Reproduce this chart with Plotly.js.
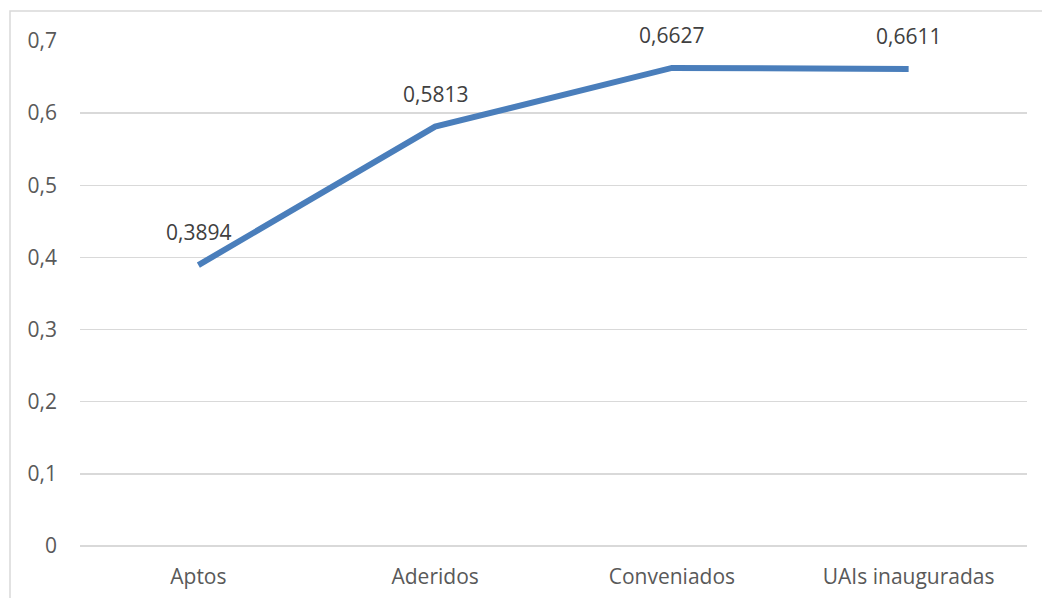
<!DOCTYPE html>
<html>
<head>
<meta charset="utf-8">
<script src="https://cdn.plot.ly/plotly-3.0.1.min.js"></script>
<style>
  html, body { margin: 0; padding: 0; background: #ffffff; }
  #chart { width: 1042px; height: 598px; }
</style>
</head>
<body>
<div id="chart"></div>
<script>
// Stages of the programme and their share
const categories = ['Aptos', 'Aderidos', 'Conveniados', 'UAIs inauguradas'];
const values = [0.3894, 0.5813, 0.6627, 0.6611];
const valueLabels = ['0,3894', '0,5813', '0,6627', '0,6611'];
const yTicks = [0, 0.1, 0.2, 0.3, 0.4, 0.5, 0.6, 0.7];

const textColor = '#595959';
const fontFamily = 'Open Sans, Liberation Sans, sans-serif';
const fontSize = 21;

const trace = {
  type: 'scatter',
  mode: 'lines',
  x: categories,
  y: values,
  line: { color: '#4a7ebb', width: 6 },
  hoverinfo: 'skip'
};

const annotations = categories.map((c, i) => ({
  x: c,
  y: values[i],
  xref: 'x',
  yref: 'y',
  text: valueLabels[i],
  showarrow: false,
  yshift: 33,
  font: { family: fontFamily, size: fontSize, color: '#404040' }
}));

// Light frame around the chart area
const plotW = 1042 - 80 - 15;
const plotH = 598 - 41 - 52;
const frame = {
  type: 'rect',
  xref: 'paper', yref: 'paper',
  x0: (10 - 80) / plotW,
  x1: (1060 - 80) / plotW,
  y0: -(620 - 546) / plotH,
  y1: 1 + (41 - 11) / plotH,
  line: { color: '#d9d9d9', width: 1.5 },
  fillcolor: 'rgba(0,0,0,0)',
  layer: 'below'
};

const layout = {
  width: 1042,
  height: 598,
  margin: { l: 80, r: 15, t: 41, b: 52 },
  paper_bgcolor: '#ffffff',
  plot_bgcolor: '#ffffff',
  separators: ',.',
  showlegend: false,
  font: { family: fontFamily, size: fontSize, color: textColor },
  xaxis: {
    type: 'category',
    range: [-0.5, 3.5],
    showgrid: false,
    zeroline: false,
    showline: false,
    ticks: '',
    ticklabelstandoff: 16,
    tickfont: { family: fontFamily, size: fontSize, color: textColor }
  },
  yaxis: {
    range: [0, 0.7],
    tickvals: yTicks,
    ticktext: yTicks.map(v => v === 0 ? '0' : v.toFixed(1).replace('.', ',')),
    showgrid: true,
    gridcolor: '#d9d9d9',
    gridwidth: 1.5,
    zeroline: true,
    zerolinecolor: '#d9d9d9',
    zerolinewidth: 1.5,
    showline: false,
    ticks: '',
    ticklabelstandoff: 22,
    tickfont: { family: fontFamily, size: fontSize, color: textColor }
  },
  annotations: annotations,
  shapes: [frame]
};

Plotly.newPlot('chart', [trace], layout, { displayModeBar: false, staticPlot: true });
</script>
</body>
</html>
